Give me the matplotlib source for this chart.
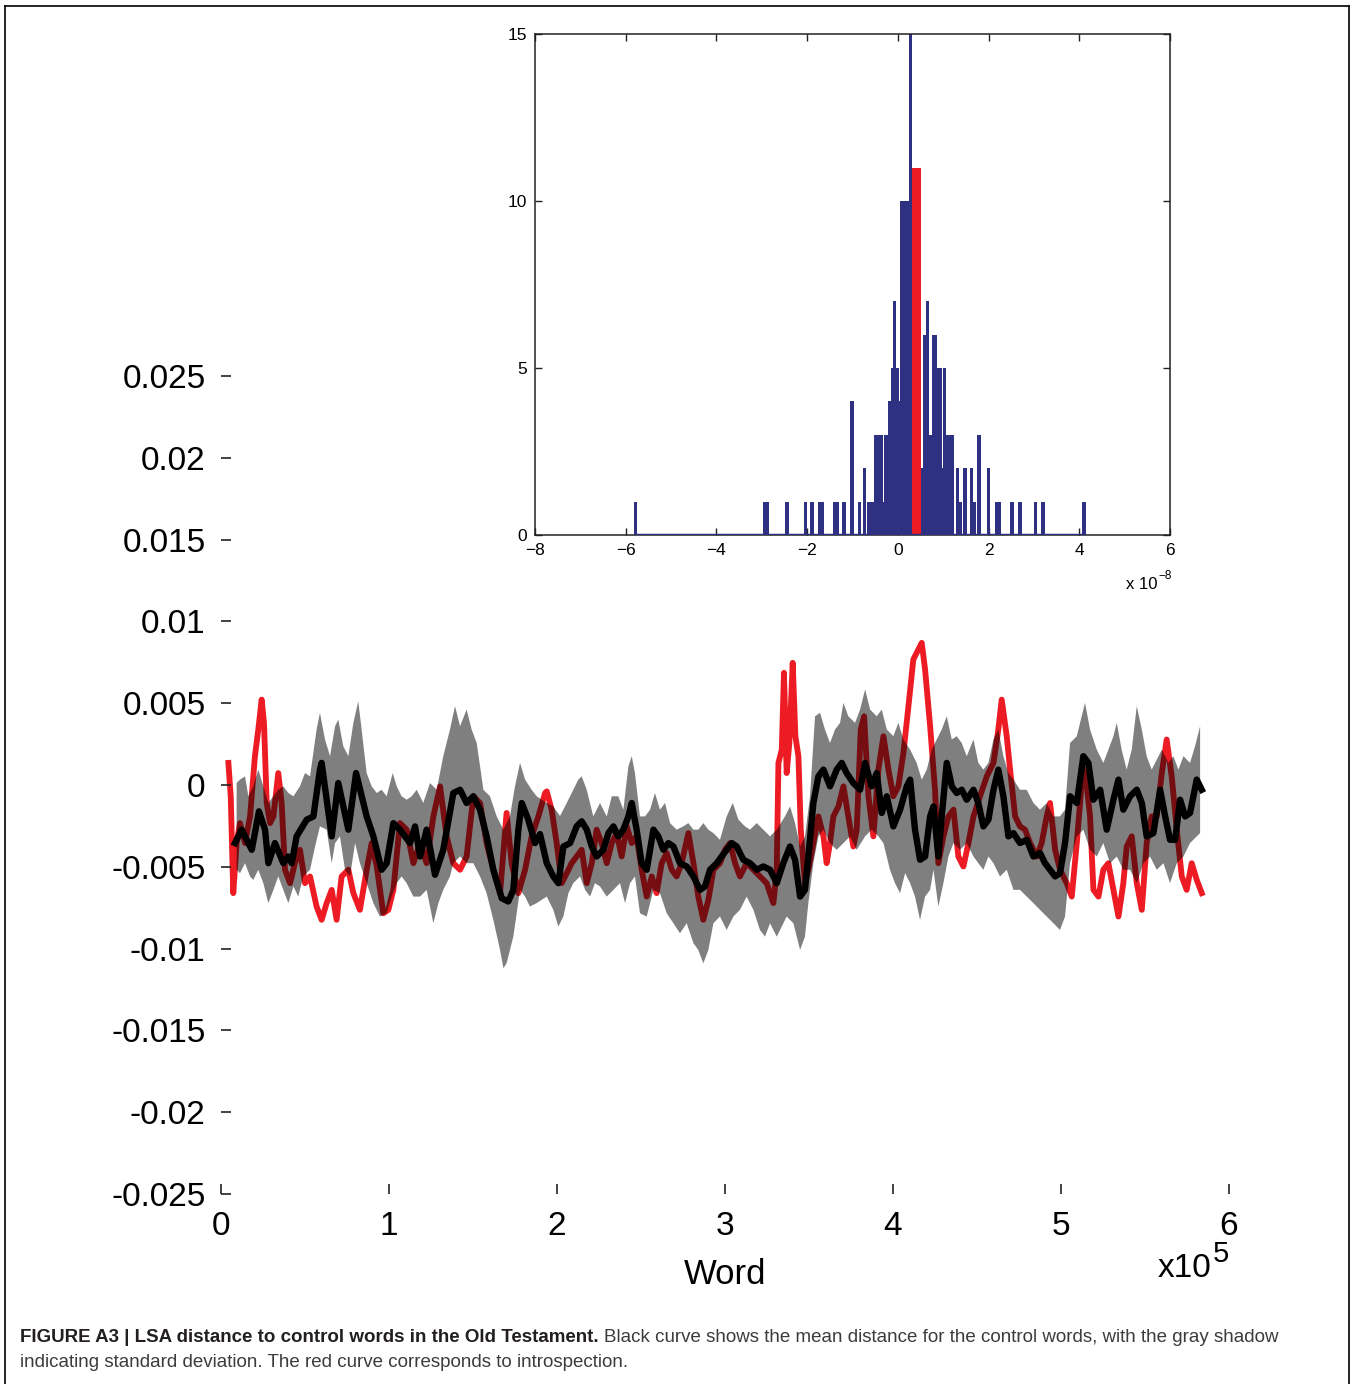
import numpy as np
import matplotlib
matplotlib.use('Agg')
import matplotlib.pyplot as plt
from matplotlib.lines import Line2D

plt.rcParams['font.family'] = ['Liberation Sans', 'DejaVu Sans']

# ---------------- datos (x en 1e5 palabras, distancias en 1e-3) ----------------
# curva negra: media de las palabras de control
black_x = [0.083, 0.123, 0.183, 0.226, 0.262, 0.282, 0.321, 0.371, 0.401, 0.421,
           0.450, 0.510, 0.550, 0.589, 0.599, 0.659, 0.698, 0.758, 0.804, 0.867,
           0.907, 0.956, 0.986, 1.026, 1.065, 1.125, 1.155, 1.185, 1.224, 1.274,
           1.323, 1.383, 1.423, 1.462, 1.502, 1.542, 1.581, 1.621, 1.671, 1.710,
           1.740, 1.770, 1.790, 1.829, 1.869, 1.899,
           1.939, 1.978, 2.008, 2.038, 2.078, 2.117, 2.147, 2.177, 2.207, 2.236,
           2.276, 2.306, 2.336, 2.365, 2.395, 2.425, 2.445, 2.474, 2.504, 2.534,
           2.574, 2.603, 2.633, 2.663, 2.693, 2.732, 2.772, 2.812, 2.851, 2.881,
           2.911, 2.951, 2.980, 3.010, 3.040, 3.070, 3.109, 3.149, 3.189, 3.228,
           3.268, 3.308, 3.347, 3.387, 3.417, 3.447, 3.476, 3.496, 3.526, 3.556,
           3.586, 3.625, 3.665, 3.695, 3.724, 3.764, 3.804,
           3.834, 3.873, 3.903, 3.933, 3.963, 4.002, 4.042, 4.082, 4.102, 4.131,
           4.161, 4.191, 4.221, 4.241, 4.270, 4.290, 4.320, 4.350, 4.379, 4.409,
           4.439, 4.479, 4.508, 4.538, 4.568, 4.598, 4.627, 4.657, 4.687, 4.717,
           4.756, 4.796, 4.836, 4.875, 4.905, 4.935, 4.965, 4.994, 5.024, 5.054,
           5.094, 5.133, 5.163, 5.193, 5.233, 5.272, 5.312, 5.342, 5.371, 5.411,
           5.451, 5.481, 5.510, 5.550, 5.590, 5.620, 5.649, 5.679, 5.709, 5.739,
           5.768, 5.808, 5.838]
black_y = [-3.55, -2.73, -3.96, -1.61, -2.73, -4.78, -3.55, -4.78, -4.37, -4.78,
           -3.14, -2.12, -1.92, 0.94, 1.35, -3.14, 0.12, -2.73, 0.73, -1.92,
           -3.14, -5.18, -4.78, -2.33, -2.73, -3.55, -2.53, -4.37, -2.73, -5.49,
           -3.96, -0.49, -0.29, -1.10, -0.69, -1.51, -3.14, -5.18, -6.92, -7.12,
           -6.41, -2.73, -1.10, -2.12, -3.55, -3.00,
           -4.78, -5.59, -6.00, -3.76, -3.55, -2.53, -2.22, -2.73, -3.76, -4.37,
           -3.96, -2.94, -2.53, -3.14, -2.73, -1.92, -1.10, -2.73, -4.78, -5.18,
           -2.73, -3.14, -3.96, -3.55, -3.76, -4.78, -4.98, -5.59, -6.41, -6.20,
           -5.18, -4.78, -4.37, -3.96, -3.55, -3.76, -4.57, -4.78, -5.18, -4.98,
           -5.18, -6.00, -4.78, -3.76, -4.57, -6.82, -6.41, -4.37, -1.10, 0.53,
           0.94, -0.08, 0.94, 1.35, 0.73, 0.12, -0.29,
           1.35, -0.08, 0.73, -1.71, -0.69, -2.53, -1.51, -0.08, 0.33, -2.73,
           -4.57, -4.37, -1.92, -1.31, -4.37, -1.92, 1.35, -0.08, -0.49, -0.29,
           -0.90, -0.29, -1.10, -2.53, -2.12, -0.29, 0.94, -0.69, -3.14, -2.94,
           -3.55, -3.35, -4.37, -4.16, -4.78, -5.18, -5.59, -5.39, -3.55, -0.69,
           -1.10, 1.76, 1.35, -0.90, -0.29, -2.73, -0.90, 0.33, -1.51, -0.69,
           -0.29, -1.10, -3.14, -2.94, -0.29, -1.92, -3.35, -3.35, -0.90, -1.92,
           -1.71, 0.33, -0.29]

# curva roja: introspección
red_x = [0.044, 0.058, 0.073, 0.093, 0.113, 0.143, 0.173, 0.202, 0.222, 0.242,
         0.256, 0.272, 0.292, 0.312, 0.341, 0.361, 0.381, 0.411, 0.440, 0.470,
         0.500, 0.530, 0.569, 0.599, 0.629, 0.659, 0.688, 0.718, 0.758, 0.788,
         0.827, 0.867, 0.897, 0.927, 0.966, 0.996, 1.026, 1.065, 1.105, 1.145,
         1.185, 1.224, 1.264, 1.304, 1.343, 1.383, 1.423, 1.462, 1.502, 1.542,
         1.581, 1.621, 1.661, 1.700, 1.730, 1.770, 1.810, 1.849, 1.889, 1.929,
         1.939, 1.968, 1.998, 2.028, 2.058, 2.087, 2.117, 2.147, 2.177, 2.207,
         2.236, 2.266, 2.296, 2.326, 2.355, 2.385, 2.415, 2.445, 2.474, 2.504,
         2.534, 2.564, 2.593, 2.623, 2.653, 2.683, 2.712, 2.742, 2.782, 2.812,
         2.841, 2.871, 2.901, 2.931, 2.970, 3.000, 3.030, 3.060, 3.089, 3.129,
         3.169, 3.208, 3.248, 3.288, 3.308, 3.318, 3.338, 3.351, 3.367, 3.383,
         3.403, 3.419, 3.437, 3.451, 3.476, 3.496, 3.526, 3.556, 3.586, 3.605,
         3.625, 3.645, 3.675, 3.705, 3.734, 3.764, 3.784, 3.808, 3.828,
         3.854, 3.883, 3.913, 3.943, 3.973, 4.002, 4.032, 4.062, 4.092, 4.121,
         4.151, 4.171, 4.191, 4.221, 4.250, 4.270, 4.300, 4.330, 4.360, 4.389,
         4.419, 4.449, 4.479, 4.518, 4.558, 4.598, 4.627, 4.647, 4.677, 4.697,
         4.727, 4.756, 4.786, 4.816, 4.856, 4.885, 4.915, 4.935, 4.965, 4.994,
         5.034, 5.064, 5.094, 5.123, 5.143, 5.173, 5.193, 5.223, 5.252, 5.282,
         5.312, 5.342, 5.371, 5.391, 5.421, 5.451, 5.481, 5.510, 5.540, 5.570,
         5.600, 5.629, 5.659, 5.689, 5.719, 5.748, 5.778, 5.808, 5.838]
red_y = [1.35, -0.69, -6.61, -3.55, -2.33, -3.55, -1.92, 1.76, 3.39, 5.22,
         3.80, -1.10, -2.33, -1.92, 0.73, -1.10, -5.18, -6.00, -4.78, -3.96,
         -6.00, -5.59, -7.43, -8.24, -7.22, -6.41, -8.24, -5.59, -5.18, -6.61,
         -7.63, -5.18, -3.55, -4.98, -7.84, -7.63, -6.41, -2.33, -2.73, -4.78,
         -3.55, -4.78, -1.92, -0.08, -3.14, -4.78, -5.18, -4.37, -0.69, -1.10,
         -3.55, -5.18, -6.61, -1.71, -4.78, -6.61, -5.18, -3.14, -1.92, -0.49,
         -0.39, -1.51, -3.55, -6.00, -5.39, -4.78, -4.37, -3.96, -6.00, -4.78,
         -2.73, -3.55, -4.78, -3.55, -2.94, -4.37, -2.53, -3.55, -3.14, -5.18,
         -6.82, -5.59, -6.61, -4.78, -4.16, -5.18, -5.59, -4.78, -2.94, -4.78,
         -6.82, -8.24, -7.02, -5.18, -4.78, -3.96, -3.55, -4.78, -5.59, -4.78,
         -5.18, -5.59, -6.00, -7.22, -5.18, 1.35, 2.16, 6.86, 0.73, 2.57,
         7.47, 2.98, 1.76, -2.73, -6.00, -5.18, -3.55, -1.92, -3.14, -4.78,
         -3.55, -1.92, -1.31, -0.08, -1.92, -3.76, -2.73, 3.39, 4.20,
         -0.69, -3.14, 0.94, 2.98, 0.94, -0.69, -0.08, 1.96, 4.82, 7.67,
         8.29, 8.69, 7.06, 3.59, -0.29, -4.78, -3.14, -1.92, -1.51, -4.37,
         -4.98, -3.55, -1.92, -0.69, 0.53, 1.35, 3.39, 5.22, 2.98, 0.94,
         -1.92, -2.53, -2.73, -3.55, -4.37, -3.55, -1.92, -1.10, -3.96, -5.18,
         -6.00, -6.82, -3.55, 0.12, 0.94, -1.92, -6.41, -6.82, -5.18, -4.78,
         -6.41, -8.04, -6.00, -3.76, -3.14, -6.00, -7.63, -3.55, -1.92, -1.92,
         0.73, 2.78, 0.53, -2.73, -5.59, -6.41, -4.78, -5.80, -6.61]

# sombra gris: borde superior (media + desviación)
upper_x = [0.093, 0.113, 0.143, 0.163, 0.192, 0.222, 0.252, 0.282, 0.312, 0.341,
           0.371, 0.401, 0.431, 0.470, 0.500, 0.530, 0.569, 0.589, 0.619, 0.649,
           0.679, 0.698, 0.728, 0.758, 0.788, 0.817, 0.837, 0.867, 0.897, 0.927,
           0.956, 0.986, 1.022, 1.046, 1.075, 1.105, 1.135, 1.165, 1.204, 1.244,
           1.284, 1.323, 1.363, 1.393, 1.423, 1.462, 1.492, 1.522, 1.562, 1.601,
           1.641, 1.681, 1.720, 1.750, 1.780, 1.810, 1.849, 1.879,
           1.939, 1.978, 2.018, 2.058, 2.097, 2.127, 2.147, 2.177, 2.216, 2.256,
           2.296, 2.326, 2.365, 2.395, 2.425, 2.445, 2.464, 2.494, 2.524, 2.554,
           2.583, 2.613, 2.643, 2.673, 2.712, 2.752, 2.782, 2.812, 2.841, 2.871,
           2.901, 2.931, 2.970, 3.010, 3.046, 3.080, 3.119, 3.149, 3.189, 3.228,
           3.268, 3.308, 3.357, 3.387, 3.417, 3.447, 3.476, 3.506, 3.536, 3.566,
           3.595, 3.625, 3.655, 3.685, 3.705, 3.734, 3.774, 3.804,
           3.834, 3.864, 3.903, 3.933, 3.963, 4.002, 4.032, 4.062, 4.102, 4.141,
           4.171, 4.201, 4.231, 4.260, 4.290, 4.320, 4.350, 4.379, 4.409, 4.439,
           4.479, 4.508, 4.538, 4.568, 4.598, 4.627, 4.657, 4.687, 4.717, 4.756,
           4.796, 4.836, 4.875, 4.915, 4.955, 4.994, 5.024, 5.054, 5.094, 5.123,
           5.143, 5.173, 5.213, 5.252, 5.282, 5.312, 5.332, 5.361, 5.391, 5.421,
           5.451, 5.481, 5.510, 5.540, 5.570, 5.600, 5.639, 5.669, 5.699, 5.729,
           5.768, 5.798, 5.828]
upper_y = [0.12, 0.33, 0.53, -0.69, -0.08, 0.94, -0.08, -1.10, -0.69, -0.29,
           -0.08, -0.49, -0.69, -0.08, 0.73, 0.53, 3.39, 4.41, 2.78, 1.76,
           3.59, 4.00, 2.37, 1.76, 3.80, 5.12, 3.39, 0.73, -0.08, -0.49,
           -0.29, -0.69, 0.73, -0.08, -0.69, -0.90, -0.69, -0.29, -1.10, 0.12,
           -0.29, 1.76, 3.39, 4.82, 3.59, 4.61, 3.39, 2.57, -0.29, -0.69,
           -1.92, -2.73, -1.92, -0.08, 1.35, 0.33, -0.29, -0.69,
           -1.10, -1.31, -1.90, -1.10, -0.29, 0.33, 0.53, -0.29, -1.92, -1.10,
           -1.92, -0.69, -0.69, -1.51, 1.14, 1.76, 0.73, -1.92, -1.92, -1.51,
           -0.49, -1.51, -1.10, -2.33, -2.73, -2.53, -2.33, -2.73, -2.73, -2.33,
           -2.73, -2.94, -3.35, -1.92, -1.10, -2.12, -2.53, -2.73, -2.33, -2.73,
           -3.14, -2.73, -1.92, -1.31, -2.33, -3.76, -3.14, -0.69, 4.20, 4.41,
           3.39, 2.57, 3.39, 3.80, 5.02, 4.20, 3.80, 4.61,
           5.84, 4.61, 4.20, 4.61, 3.39, 2.98, 3.80, 2.78, 2.16, 1.35,
           0.33, 0.94, 2.16, 2.78, 3.39, 4.20, 2.78, 2.98, 2.57, 1.76,
           2.78, 1.35, 0.94, 1.35, 2.78, 3.39, 1.76, 0.73, 0.33, -0.29,
           -0.29, -1.10, -1.51, -1.10, -1.92, -1.92, -1.51, 2.57, 2.98, 4.20,
           5.02, 3.39, 2.16, 1.35, 2.16, 2.98, 3.80, 2.16, 0.94, 2.16,
           4.82, 3.39, 1.76, 0.94, 1.55, 2.16, 1.35, 1.76, 0.94, 1.76,
           1.35, 2.37, 3.59]

# sombra gris: borde inferior (media - desviación)
lower_x = [0.093, 0.113, 0.143, 0.173, 0.192, 0.222, 0.252, 0.282, 0.312, 0.341,
           0.371, 0.401, 0.431, 0.460, 0.490, 0.530, 0.560, 0.589, 0.629, 0.659,
           0.679, 0.708, 0.738, 0.768, 0.798, 0.827, 0.867, 0.907, 0.946, 0.986,
           1.016, 1.046, 1.075, 1.105, 1.145, 1.185, 1.224, 1.264, 1.294, 1.323,
           1.363, 1.383, 1.423, 1.462, 1.502, 1.542, 1.581, 1.621, 1.661, 1.681,
           1.700, 1.740, 1.780, 1.810, 1.839, 1.879,
           1.939, 1.978, 2.008, 2.038, 2.068, 2.097, 2.137, 2.167, 2.197, 2.226,
           2.256, 2.296, 2.336, 2.375, 2.405, 2.435, 2.464, 2.494, 2.534, 2.574,
           2.613, 2.653, 2.693, 2.732, 2.772, 2.812, 2.841, 2.871, 2.901, 2.931,
           2.970, 3.010, 3.050, 3.089, 3.129, 3.169, 3.208, 3.238, 3.268, 3.308,
           3.338, 3.367, 3.407, 3.447, 3.476, 3.496, 3.526, 3.556, 3.586, 3.625,
           3.665, 3.705, 3.744, 3.784,
           3.834, 3.873, 3.913, 3.943, 3.982, 4.012, 4.042, 4.072, 4.102, 4.131,
           4.161, 4.191, 4.221, 4.241, 4.270, 4.300, 4.330, 4.360, 4.399, 4.439,
           4.479, 4.508, 4.538, 4.568, 4.598, 4.637, 4.677, 4.717, 4.756, 4.796,
           4.836, 4.875, 4.915, 4.955, 4.994, 5.024, 5.054, 5.094, 5.133, 5.173,
           5.213, 5.252, 5.292, 5.332, 5.371, 5.411, 5.451, 5.491, 5.530, 5.570,
           5.610, 5.649, 5.689, 5.729, 5.768, 5.808, 5.828]
lower_y = [-5.18, -5.39, -4.78, -5.59, -5.80, -5.18, -6.00, -7.22, -6.41, -5.59,
           -6.41, -7.22, -6.20, -6.82, -5.59, -5.18, -3.76, -2.53, -2.73, -4.78,
           -3.55, -3.14, -5.18, -5.59, -3.55, -4.78, -6.00, -7.22, -8.04, -7.84,
           -6.82, -6.00, -5.59, -6.00, -6.82, -6.82, -6.41, -8.45, -7.22, -6.41,
           -5.59, -4.78, -4.37, -4.78, -4.78, -5.59, -6.61, -8.24, -10.08, -11.20,
           -10.90, -9.27, -6.41, -6.82, -7.43, -7.22,
           -6.82, -7.63, -8.65, -8.04, -6.61, -6.00, -5.59, -6.41, -6.82, -6.00,
           -6.20, -6.82, -6.41, -6.00, -7.22, -6.00, -5.59, -7.84, -8.04, -6.41,
           -6.61, -7.84, -8.45, -9.06, -8.45, -9.67, -10.08, -10.90, -10.08, -8.45,
           -8.04, -8.86, -8.04, -7.63, -6.82, -7.63, -8.86, -9.27, -8.45, -9.27,
           -8.65, -8.04, -8.45, -10.08, -9.27, -7.22, -4.78, -3.14, -2.73, -3.55,
           -3.96, -3.55, -3.14, -3.96,
           -3.14, -2.73, -3.14, -3.55, -5.18, -6.00, -6.61, -5.39, -6.00, -6.82,
           -8.24, -6.82, -6.41, -5.18, -7.43, -6.00, -4.37, -3.55, -3.96, -3.55,
           -4.37, -4.78, -5.18, -4.37, -4.78, -5.59, -5.18, -6.41, -6.41, -6.82,
           -7.22, -7.63, -8.04, -8.45, -8.86, -8.04, -4.78, -3.14, -2.73, -3.96,
           -4.37, -3.55, -4.78, -4.37, -5.18, -5.18, -6.00, -4.78, -4.37, -5.18,
           -4.78, -6.00, -4.78, -4.37, -3.55, -3.14, -2.94]

# histograma del recuadro (x en unidades de 1e-8)
hist_centers = [-5.78, -2.93, -2.87, -2.44, -2.04, -1.89, -1.73, -1.67, -1.39, -1.33,
                -1.19, -1.01, -0.84, -0.74, -0.64, -0.55, -0.49, -0.43, -0.37, -0.31,
                -0.26, -0.21, -0.17, -0.12, -0.07, -0.01, 0.03, 0.09, 0.14, 0.18,
                0.22, 0.28, 0.545, 0.60, 0.66, 0.72, 0.78, 0.83, 0.88, 0.93,
                0.97, 1.03, 1.09, 1.16, 1.20, 1.31, 1.38, 1.48, 1.62, 1.69,
                1.79, 2.00, 2.17, 2.23, 2.52, 2.69, 3.03, 3.20, 4.10]
hist_counts = [1, 1, 1, 1, 1, 1, 1, 1, 1, 1,
               1, 4, 1, 2, 1, 1, 3, 3, 3, 1,
               3, 3, 4, 5, 7, 5, 4, 10, 4, 10,
               10, 15, 2, 6, 7, 3, 6, 6, 5, 5,
               2, 5, 3, 3, 3, 2, 1, 2, 2, 1,
               3, 2, 1, 1, 1, 1, 1, 1, 1]
intro_center = 0.415
intro_width = 0.19
intro_count = 11

y_ticks = [-0.025, -0.02, -0.015, -0.01, -0.005, 0, 0.005, 0.01, 0.015, 0.02, 0.025]
y_tick_labels = ['-0.025', '-0.02', '-0.015', '-0.01', '-0.005', '0',
                 '0.005', '0.01', '0.015', '0.02', '0.025']
x_ticks = [0, 1, 2, 3, 4, 5, 6]
x_tick_labels = ['0', '1', '2', '3', '4', '5', '6']

caption_bold = 'FIGURE A3 | LSA distance to control words in the Old Testament.'
caption_rest = ('Black curve shows the mean distance for the control words, '
                'with the gray shadow')
caption_line2 = 'indicating standard deviation. The red curve corresponds to introspection.'

# ---------------- figura ----------------
W, H = 1355, 1384
fig = plt.figure(figsize=(W / 100, H / 100), dpi=100)


def fx(px):
    return px / W


def fy(py):
    return 1 - py / H


rojo = '#ed1c24'
azul = '#2e3182'

# ejes principales
ax = fig.add_axes([fx(221), fy(1194), (1229 - 221) / W, (1194 - 376) / H])
ax.plot(np.array(red_x) * 1e5, np.array(red_y) * 1e-3, color=rojo, lw=4.2, zorder=1)
sombra_x = np.concatenate([upper_x, lower_x[::-1]]) * 1e5
sombra_y = np.concatenate([upper_y, lower_y[::-1]]) * 1e-3
ax.fill(sombra_x, sombra_y, color='black', alpha=0.5, lw=0, zorder=2)
ax.plot(np.array(black_x) * 1e5, np.array(black_y) * 1e-3, color='black', lw=4.6, zorder=3)

ax.set_xlim(0, 6e5)
ax.set_ylim(-0.025, 0.025)
for s in ax.spines.values():
    s.set_visible(False)
ax.set_xticks(np.array(x_ticks) * 1e5)
ax.set_xticklabels(x_tick_labels)
ax.set_yticks(y_ticks)
ax.set_yticklabels(y_tick_labels)
ax.tick_params(direction='in', length=7, width=1.2, labelsize=24, color='#222222')
ax.tick_params(axis='y', pad=11)
ax.tick_params(axis='x', pad=12)
ax.set_xlabel('Word', fontsize=25, labelpad=12)
fig.text(fx(1211), fy(1277), 'x10', fontsize=24, ha='right', va='baseline')
fig.text(fx(1213), fy(1262), '5', fontsize=21, ha='left', va='baseline')

# recuadro con el histograma
axi = fig.add_axes([fx(535), fy(535), (1170 - 535) / W, (535 - 34) / H])
axi.bar(hist_centers, hist_counts, width=0.075, color=azul, lw=0, zorder=2)
axi.bar([intro_center], [intro_count], width=intro_width, color=rojo, lw=0, zorder=3)
axi.plot([min(hist_centers), max(hist_centers)], [0, 0], color=azul, lw=2.5, zorder=4)
axi.set_xlim(-8, 6)
axi.set_ylim(0, 15)
axi.set_xticks(range(-8, 7, 2))
axi.set_yticks([0, 5, 10, 15])
axi.tick_params(direction='in', top=True, right=True, length=5, width=1,
                labelsize=12.5, color='#222222')
axi.tick_params(axis='x', pad=6)
axi.tick_params(axis='y', pad=6)
for s in axi.spines.values():
    s.set_linewidth(1.1)
    s.set_color('#222222')
fig.text(fx(1157), fy(589), 'x 10', fontsize=12, ha='right', va='baseline')
fig.text(fx(1158), fy(579), '\u22128', fontsize=8.5, ha='left', va='baseline')

# marco de la figura
for xs, ys in [([5, 5], [6, H]), ([1349, 1349], [6, H]), ([5, 1349], [6, 6])]:
    fig.add_artist(Line2D([fx(v) for v in xs], [fy(v) for v in ys], color='black', lw=1.2))

# pie de figura
t1 = fig.text(fx(20), fy(1342), caption_bold, fontsize=13.5, fontweight='bold', color='#231f20')
fig.canvas.draw()
bb = t1.get_window_extent()
fig.text((bb.x1 + 5) / W, fy(1342), caption_rest, fontsize=13.5, color='#3c3c3c')
fig.text(fx(20), fy(1367), caption_line2, fontsize=13.5, color='#3c3c3c')

fig.savefig('out.png', dpi=100)
